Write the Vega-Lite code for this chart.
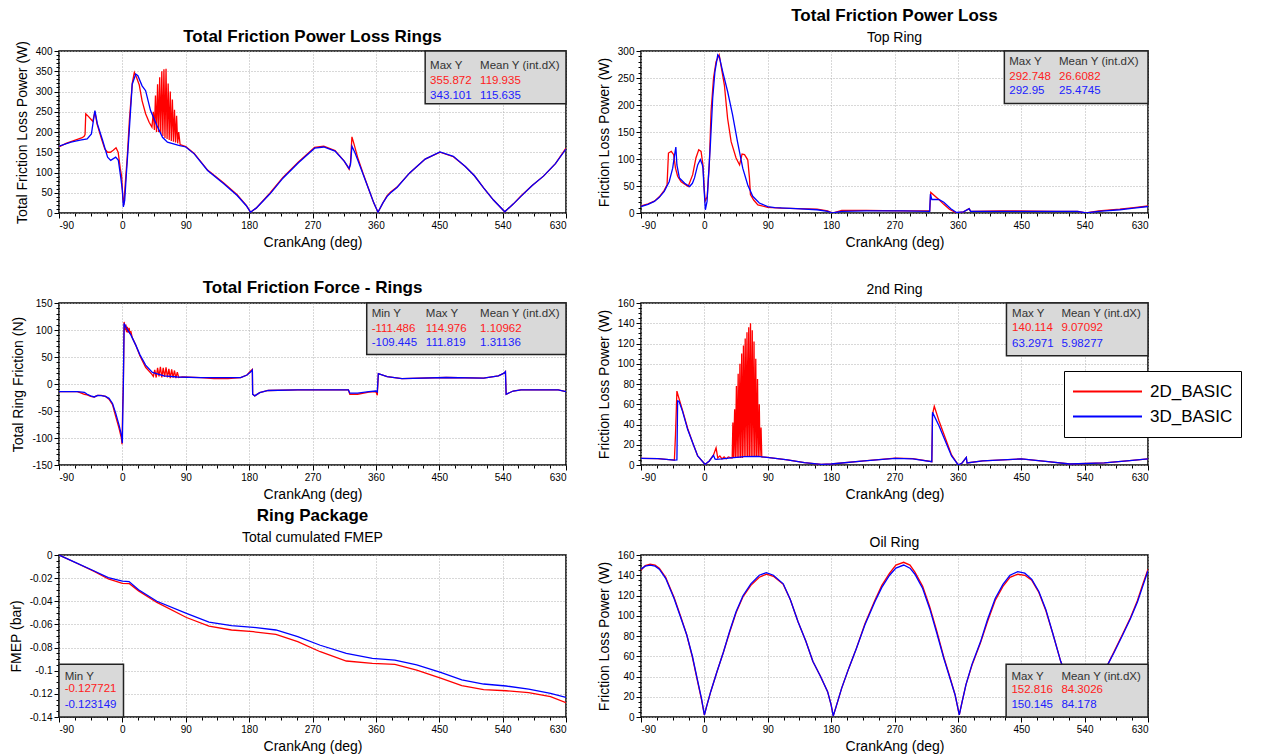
{
"$schema": "https://vega.github.io/schema/vega-lite/v6.json",
"background": "white",
"padding": {"left": 8, "top": 6, "right": 5, "bottom": 5},
"columns": 2,
"spacing": {"row": 90, "column": 75},
"bounds": "flush",
"resolve": {"scale": {"color": "shared"}, "legend": {"color": "shared"}},
"config": {
 "font": "Liberation Sans",
 "view": {"stroke": "#000", "strokeWidth": 1.5},
 "axis": {"labelFont": "Liberation Sans", "labelFontSize": 10, "labelColor": "#000", "labelOverlap": false, "titleFont": "Liberation Sans", "titleFontSize": 14, "titleFontWeight": "normal", "titleColor": "#000", "domain": false, "tickColor": "#000", "tickSize": 5, "gridColor": "#b0b0b0", "gridDash": [1, 2], "labelPadding": 2, "titlePadding": 5},
 "axisY": {"titlePadding": 6, "labelPadding": 2},
 "title": {"font": "Liberation Sans", "fontSize": 17, "fontWeight": "bold", "color": "#000", "subtitleFont": "Liberation Sans", "subtitleFontSize": 14, "subtitleColor": "#000", "offset": 6, "subtitlePadding": 6},
 "text": {"font": "Liberation Sans"}
},
"datasets": {
 "d1": [
{"run":"2D_BASIC","ang":-90,"val":163},{"run":"2D_BASIC","ang":-80,"val":172},{"run":"2D_BASIC","ang":-70,"val":178},{"run":"2D_BASIC","ang":-62,"val":183},{"run":"2D_BASIC","ang":-57,"val":186},{"run":"2D_BASIC","ang":-54,"val":190},{"run":"2D_BASIC","ang":-53,"val":194},{"run":"2D_BASIC","ang":-52,"val":245},{"run":"2D_BASIC","ang":-48,"val":238},{"run":"2D_BASIC","ang":-45,"val":232},{"run":"2D_BASIC","ang":-42,"val":226},{"run":"2D_BASIC","ang":-39,"val":250},{"run":"2D_BASIC","ang":-36,"val":220},{"run":"2D_BASIC","ang":-30,"val":185},{"run":"2D_BASIC","ang":-25,"val":158},{"run":"2D_BASIC","ang":-21,"val":150},{"run":"2D_BASIC","ang":-17,"val":150},{"run":"2D_BASIC","ang":-13,"val":155},{"run":"2D_BASIC","ang":-9,"val":161},{"run":"2D_BASIC","ang":-6,"val":150},{"run":"2D_BASIC","ang":-3,"val":110},{"run":"2D_BASIC","ang":-1,"val":90},{"run":"2D_BASIC","ang":0.5,"val":40},{"run":"2D_BASIC","ang":2,"val":20},{"run":"2D_BASIC","ang":4,"val":70},{"run":"2D_BASIC","ang":7,"val":140},{"run":"2D_BASIC","ang":10,"val":230},{"run":"2D_BASIC","ang":14,"val":320},{"run":"2D_BASIC","ang":17,"val":347},{"run":"2D_BASIC","ang":20,"val":335},{"run":"2D_BASIC","ang":24,"val":316},{"run":"2D_BASIC","ang":28,"val":277},{"run":"2D_BASIC","ang":33,"val":245},{"run":"2D_BASIC","ang":38,"val":224},{"run":"2D_BASIC","ang":42,"val":212},{"run":"2D_BASIC","ang":44,"val":250},{"run":"2D_BASIC","ang":45.5,"val":205},{"run":"2D_BASIC","ang":47,"val":290},{"run":"2D_BASIC","ang":48.5,"val":200},{"run":"2D_BASIC","ang":50,"val":318},{"run":"2D_BASIC","ang":51.5,"val":200},{"run":"2D_BASIC","ang":53,"val":335},{"run":"2D_BASIC","ang":54.5,"val":195},{"run":"2D_BASIC","ang":56,"val":350},{"run":"2D_BASIC","ang":57.5,"val":190},{"run":"2D_BASIC","ang":59,"val":355},{"run":"2D_BASIC","ang":60.5,"val":185},{"run":"2D_BASIC","ang":62,"val":355.9},{"run":"2D_BASIC","ang":63.5,"val":183},{"run":"2D_BASIC","ang":65,"val":320},{"run":"2D_BASIC","ang":66.5,"val":180},{"run":"2D_BASIC","ang":68,"val":300},{"run":"2D_BASIC","ang":69.5,"val":178},{"run":"2D_BASIC","ang":71,"val":280},{"run":"2D_BASIC","ang":72.5,"val":176},{"run":"2D_BASIC","ang":74,"val":255},{"run":"2D_BASIC","ang":75.5,"val":174},{"run":"2D_BASIC","ang":77,"val":240},{"run":"2D_BASIC","ang":78.5,"val":172},{"run":"2D_BASIC","ang":80,"val":200},{"run":"2D_BASIC","ang":82,"val":169},{"run":"2D_BASIC","ang":90,"val":164},{"run":"2D_BASIC","ang":102,"val":147},{"run":"2D_BASIC","ang":121,"val":106},{"run":"2D_BASIC","ang":144,"val":74},{"run":"2D_BASIC","ang":163,"val":45},{"run":"2D_BASIC","ang":176,"val":19},{"run":"2D_BASIC","ang":182,"val":2},{"run":"2D_BASIC","ang":190,"val":12},{"run":"2D_BASIC","ang":210,"val":50},{"run":"2D_BASIC","ang":228,"val":88},{"run":"2D_BASIC","ang":250,"val":126},{"run":"2D_BASIC","ang":273,"val":162},{"run":"2D_BASIC","ang":286,"val":165},{"run":"2D_BASIC","ang":302,"val":154},{"run":"2D_BASIC","ang":315,"val":128},{"run":"2D_BASIC","ang":322,"val":108},{"run":"2D_BASIC","ang":324,"val":125},{"run":"2D_BASIC","ang":326,"val":188},{"run":"2D_BASIC","ang":329,"val":170},{"run":"2D_BASIC","ang":334,"val":138},{"run":"2D_BASIC","ang":342,"val":97},{"run":"2D_BASIC","ang":350,"val":58},{"run":"2D_BASIC","ang":357,"val":25},{"run":"2D_BASIC","ang":363,"val":2},{"run":"2D_BASIC","ang":370,"val":25},{"run":"2D_BASIC","ang":376,"val":43},{"run":"2D_BASIC","ang":381,"val":52},{"run":"2D_BASIC","ang":390,"val":64},{"run":"2D_BASIC","ang":408,"val":99},{"run":"2D_BASIC","ang":430,"val":133},{"run":"2D_BASIC","ang":451,"val":150},{"run":"2D_BASIC","ang":470,"val":139},{"run":"2D_BASIC","ang":487,"val":115},{"run":"2D_BASIC","ang":500,"val":92},{"run":"2D_BASIC","ang":513,"val":62},{"run":"2D_BASIC","ang":527,"val":32},{"run":"2D_BASIC","ang":543,"val":3},{"run":"2D_BASIC","ang":555,"val":22},{"run":"2D_BASIC","ang":566,"val":42},{"run":"2D_BASIC","ang":582,"val":68},{"run":"2D_BASIC","ang":598,"val":91},{"run":"2D_BASIC","ang":615,"val":122},{"run":"2D_BASIC","ang":630,"val":160},
{"run":"3D_BASIC","ang":-90,"val":165},{"run":"3D_BASIC","ang":-73,"val":175},{"run":"3D_BASIC","ang":-60,"val":180},{"run":"3D_BASIC","ang":-50,"val":183},{"run":"3D_BASIC","ang":-44,"val":195},{"run":"3D_BASIC","ang":-41,"val":230},{"run":"3D_BASIC","ang":-39,"val":253},{"run":"3D_BASIC","ang":-35.5,"val":220},{"run":"3D_BASIC","ang":-28,"val":179},{"run":"3D_BASIC","ang":-21,"val":138},{"run":"3D_BASIC","ang":-16.6,"val":130},{"run":"3D_BASIC","ang":-9.5,"val":138},{"run":"3D_BASIC","ang":-5.7,"val":130},{"run":"3D_BASIC","ang":-2.4,"val":89},{"run":"3D_BASIC","ang":0,"val":56},{"run":"3D_BASIC","ang":1.4,"val":15},{"run":"3D_BASIC","ang":3.3,"val":31},{"run":"3D_BASIC","ang":6,"val":105},{"run":"3D_BASIC","ang":9.5,"val":195},{"run":"3D_BASIC","ang":14,"val":318},{"run":"3D_BASIC","ang":19,"val":343.1},{"run":"3D_BASIC","ang":22,"val":339},{"run":"3D_BASIC","ang":28,"val":314},{"run":"3D_BASIC","ang":33,"val":302},{"run":"3D_BASIC","ang":40,"val":253},{"run":"3D_BASIC","ang":49,"val":216},{"run":"3D_BASIC","ang":57,"val":187},{"run":"3D_BASIC","ang":64,"val":175},{"run":"3D_BASIC","ang":80,"val":167},{"run":"3D_BASIC","ang":90,"val":163},{"run":"3D_BASIC","ang":102,"val":146},{"run":"3D_BASIC","ang":121,"val":105},{"run":"3D_BASIC","ang":144,"val":72},{"run":"3D_BASIC","ang":163,"val":43},{"run":"3D_BASIC","ang":176,"val":18},{"run":"3D_BASIC","ang":182,"val":2},{"run":"3D_BASIC","ang":190,"val":12},{"run":"3D_BASIC","ang":210,"val":48},{"run":"3D_BASIC","ang":228,"val":86},{"run":"3D_BASIC","ang":250,"val":124},{"run":"3D_BASIC","ang":273,"val":160},{"run":"3D_BASIC","ang":286,"val":163},{"run":"3D_BASIC","ang":302,"val":153},{"run":"3D_BASIC","ang":315,"val":128},{"run":"3D_BASIC","ang":322,"val":110},{"run":"3D_BASIC","ang":324,"val":120},{"run":"3D_BASIC","ang":326,"val":165},{"run":"3D_BASIC","ang":330,"val":150},{"run":"3D_BASIC","ang":334,"val":132},{"run":"3D_BASIC","ang":342,"val":95},{"run":"3D_BASIC","ang":350,"val":58},{"run":"3D_BASIC","ang":357,"val":25},{"run":"3D_BASIC","ang":363,"val":2},{"run":"3D_BASIC","ang":370,"val":25},{"run":"3D_BASIC","ang":376,"val":41},{"run":"3D_BASIC","ang":381,"val":50},{"run":"3D_BASIC","ang":390,"val":63},{"run":"3D_BASIC","ang":408,"val":99},{"run":"3D_BASIC","ang":430,"val":133},{"run":"3D_BASIC","ang":451,"val":151},{"run":"3D_BASIC","ang":470,"val":140},{"run":"3D_BASIC","ang":487,"val":115},{"run":"3D_BASIC","ang":500,"val":92},{"run":"3D_BASIC","ang":513,"val":62},{"run":"3D_BASIC","ang":527,"val":32},{"run":"3D_BASIC","ang":543,"val":3},{"run":"3D_BASIC","ang":555,"val":22},{"run":"3D_BASIC","ang":566,"val":41},{"run":"3D_BASIC","ang":582,"val":68},{"run":"3D_BASIC","ang":598,"val":91},{"run":"3D_BASIC","ang":615,"val":122},{"run":"3D_BASIC","ang":630,"val":158}
 ],
 "d2": [
{"run":"2D_BASIC","ang":-90,"val":13},{"run":"2D_BASIC","ang":-80,"val":17},{"run":"2D_BASIC","ang":-71,"val":22},{"run":"2D_BASIC","ang":-64,"val":30},{"run":"2D_BASIC","ang":-57,"val":42},{"run":"2D_BASIC","ang":-53,"val":52},{"run":"2D_BASIC","ang":-51,"val":111},{"run":"2D_BASIC","ang":-47,"val":114},{"run":"2D_BASIC","ang":-43.6,"val":108},{"run":"2D_BASIC","ang":-41,"val":83},{"run":"2D_BASIC","ang":-38,"val":68},{"run":"2D_BASIC","ang":-33,"val":58},{"run":"2D_BASIC","ang":-23,"val":49},{"run":"2D_BASIC","ang":-16.6,"val":71},{"run":"2D_BASIC","ang":-12,"val":102},{"run":"2D_BASIC","ang":-8,"val":117},{"run":"2D_BASIC","ang":-4.7,"val":114},{"run":"2D_BASIC","ang":-2,"val":89},{"run":"2D_BASIC","ang":-0.5,"val":52},{"run":"2D_BASIC","ang":1,"val":22},{"run":"2D_BASIC","ang":4,"val":30},{"run":"2D_BASIC","ang":7,"val":90},{"run":"2D_BASIC","ang":9.5,"val":188},{"run":"2D_BASIC","ang":13,"val":250},{"run":"2D_BASIC","ang":16.6,"val":280},{"run":"2D_BASIC","ang":21,"val":292.7},{"run":"2D_BASIC","ang":24,"val":270},{"run":"2D_BASIC","ang":28.4,"val":237},{"run":"2D_BASIC","ang":33,"val":175},{"run":"2D_BASIC","ang":38,"val":132},{"run":"2D_BASIC","ang":45,"val":102},{"run":"2D_BASIC","ang":50,"val":89},{"run":"2D_BASIC","ang":53.5,"val":109},{"run":"2D_BASIC","ang":57,"val":108},{"run":"2D_BASIC","ang":61.6,"val":98.5},{"run":"2D_BASIC","ang":64,"val":65},{"run":"2D_BASIC","ang":65.4,"val":34},{"run":"2D_BASIC","ang":70,"val":24},{"run":"2D_BASIC","ang":76,"val":15},{"run":"2D_BASIC","ang":90,"val":10.5},{"run":"2D_BASIC","ang":109,"val":9},{"run":"2D_BASIC","ang":133,"val":8},{"run":"2D_BASIC","ang":160,"val":7},{"run":"2D_BASIC","ang":175,"val":4},{"run":"2D_BASIC","ang":182,"val":0},{"run":"2D_BASIC","ang":195,"val":5},{"run":"2D_BASIC","ang":230,"val":5},{"run":"2D_BASIC","ang":280,"val":4},{"run":"2D_BASIC","ang":320,"val":4},{"run":"2D_BASIC","ang":321.5,"val":38},{"run":"2D_BASIC","ang":333,"val":25},{"run":"2D_BASIC","ang":340,"val":16},{"run":"2D_BASIC","ang":348,"val":7},{"run":"2D_BASIC","ang":358,"val":0},{"run":"2D_BASIC","ang":368,"val":2},{"run":"2D_BASIC","ang":376,"val":8},{"run":"2D_BASIC","ang":378,"val":3},{"run":"2D_BASIC","ang":420,"val":4},{"run":"2D_BASIC","ang":500,"val":3},{"run":"2D_BASIC","ang":530,"val":3},{"run":"2D_BASIC","ang":542,"val":0},{"run":"2D_BASIC","ang":560,"val":4},{"run":"2D_BASIC","ang":590,"val":7},{"run":"2D_BASIC","ang":610,"val":10},{"run":"2D_BASIC","ang":630,"val":13},
{"run":"3D_BASIC","ang":-90,"val":12},{"run":"3D_BASIC","ang":-80,"val":16},{"run":"3D_BASIC","ang":-71,"val":21.5},{"run":"3D_BASIC","ang":-64,"val":29},{"run":"3D_BASIC","ang":-57,"val":40},{"run":"3D_BASIC","ang":-50,"val":58},{"run":"3D_BASIC","ang":-45,"val":83},{"run":"3D_BASIC","ang":-42,"val":110},{"run":"3D_BASIC","ang":-40.5,"val":122},{"run":"3D_BASIC","ang":-39,"val":89},{"run":"3D_BASIC","ang":-35.5,"val":65},{"run":"3D_BASIC","ang":-28,"val":55},{"run":"3D_BASIC","ang":-21,"val":49},{"run":"3D_BASIC","ang":-17,"val":55},{"run":"3D_BASIC","ang":-14,"val":65},{"run":"3D_BASIC","ang":-9.5,"val":89},{"run":"3D_BASIC","ang":-5.7,"val":99},{"run":"3D_BASIC","ang":-3,"val":90},{"run":"3D_BASIC","ang":-2,"val":83},{"run":"3D_BASIC","ang":-0.5,"val":46},{"run":"3D_BASIC","ang":1.4,"val":6},{"run":"3D_BASIC","ang":3.8,"val":21.5},{"run":"3D_BASIC","ang":5.7,"val":65},{"run":"3D_BASIC","ang":8.5,"val":126},{"run":"3D_BASIC","ang":11.8,"val":212},{"run":"3D_BASIC","ang":15,"val":262},{"run":"3D_BASIC","ang":19,"val":292.9},{"run":"3D_BASIC","ang":21.3,"val":289},{"run":"3D_BASIC","ang":26,"val":262},{"run":"3D_BASIC","ang":33,"val":225},{"run":"3D_BASIC","ang":40,"val":182},{"run":"3D_BASIC","ang":47,"val":132},{"run":"3D_BASIC","ang":54.5,"val":83},{"run":"3D_BASIC","ang":61.6,"val":52},{"run":"3D_BASIC","ang":68.7,"val":31},{"run":"3D_BASIC","ang":78,"val":18.5},{"run":"3D_BASIC","ang":90,"val":12},{"run":"3D_BASIC","ang":100,"val":10},{"run":"3D_BASIC","ang":130,"val":8},{"run":"3D_BASIC","ang":160,"val":6},{"run":"3D_BASIC","ang":175,"val":3},{"run":"3D_BASIC","ang":182,"val":0},{"run":"3D_BASIC","ang":195,"val":3},{"run":"3D_BASIC","ang":230,"val":4},{"run":"3D_BASIC","ang":280,"val":4},{"run":"3D_BASIC","ang":320,"val":3},{"run":"3D_BASIC","ang":321,"val":35},{"run":"3D_BASIC","ang":323,"val":25},{"run":"3D_BASIC","ang":333,"val":25},{"run":"3D_BASIC","ang":340,"val":20},{"run":"3D_BASIC","ang":350,"val":8},{"run":"3D_BASIC","ang":358,"val":1},{"run":"3D_BASIC","ang":368,"val":2},{"run":"3D_BASIC","ang":376,"val":8},{"run":"3D_BASIC","ang":378,"val":3},{"run":"3D_BASIC","ang":420,"val":3},{"run":"3D_BASIC","ang":500,"val":3},{"run":"3D_BASIC","ang":530,"val":3},{"run":"3D_BASIC","ang":542,"val":0},{"run":"3D_BASIC","ang":560,"val":3},{"run":"3D_BASIC","ang":590,"val":6},{"run":"3D_BASIC","ang":610,"val":9},{"run":"3D_BASIC","ang":630,"val":12}
 ],
 "d3": [
{"run":"2D_BASIC","ang":-90,"val":-14},{"run":"2D_BASIC","ang":-64,"val":-14},{"run":"2D_BASIC","ang":-60,"val":-16},{"run":"2D_BASIC","ang":-54,"val":-19},{"run":"2D_BASIC","ang":-50,"val":-20},{"run":"2D_BASIC","ang":-45,"val":-23},{"run":"2D_BASIC","ang":-40,"val":-24},{"run":"2D_BASIC","ang":-35,"val":-21},{"run":"2D_BASIC","ang":-30,"val":-21},{"run":"2D_BASIC","ang":-24,"val":-23},{"run":"2D_BASIC","ang":-19,"val":-28},{"run":"2D_BASIC","ang":-14,"val":-38},{"run":"2D_BASIC","ang":-9.5,"val":-60},{"run":"2D_BASIC","ang":-4.7,"val":-82},{"run":"2D_BASIC","ang":-1.4,"val":-100},{"run":"2D_BASIC","ang":-0.5,"val":-111.5},{"run":"2D_BASIC","ang":0.5,"val":-40},{"run":"2D_BASIC","ang":1.4,"val":1},{"run":"2D_BASIC","ang":2.5,"val":115},{"run":"2D_BASIC","ang":4,"val":100},{"run":"2D_BASIC","ang":5,"val":110},{"run":"2D_BASIC","ang":6,"val":96},{"run":"2D_BASIC","ang":7,"val":106},{"run":"2D_BASIC","ang":8,"val":95},{"run":"2D_BASIC","ang":9.5,"val":104},{"run":"2D_BASIC","ang":11,"val":93},{"run":"2D_BASIC","ang":12,"val":98},{"run":"2D_BASIC","ang":14,"val":86},{"run":"2D_BASIC","ang":19,"val":72},{"run":"2D_BASIC","ang":25,"val":52},{"run":"2D_BASIC","ang":33,"val":31},{"run":"2D_BASIC","ang":42,"val":18},{"run":"2D_BASIC","ang":44,"val":14},{"run":"2D_BASIC","ang":46,"val":26},{"run":"2D_BASIC","ang":48,"val":12},{"run":"2D_BASIC","ang":50,"val":30},{"run":"2D_BASIC","ang":52,"val":14},{"run":"2D_BASIC","ang":54,"val":32},{"run":"2D_BASIC","ang":56,"val":12},{"run":"2D_BASIC","ang":58,"val":30},{"run":"2D_BASIC","ang":60,"val":13},{"run":"2D_BASIC","ang":62,"val":31},{"run":"2D_BASIC","ang":64,"val":12},{"run":"2D_BASIC","ang":66,"val":28},{"run":"2D_BASIC","ang":68,"val":11},{"run":"2D_BASIC","ang":70,"val":27},{"run":"2D_BASIC","ang":72,"val":12},{"run":"2D_BASIC","ang":74,"val":25},{"run":"2D_BASIC","ang":76,"val":11},{"run":"2D_BASIC","ang":78,"val":22},{"run":"2D_BASIC","ang":80,"val":12},{"run":"2D_BASIC","ang":85,"val":13},{"run":"2D_BASIC","ang":111,"val":11.7},{"run":"2D_BASIC","ang":130,"val":10},{"run":"2D_BASIC","ang":150,"val":10},{"run":"2D_BASIC","ang":168,"val":11.7},{"run":"2D_BASIC","ang":177,"val":16.7},{"run":"2D_BASIC","ang":182,"val":24},{"run":"2D_BASIC","ang":184.6,"val":27},{"run":"2D_BASIC","ang":185,"val":-19},{"run":"2D_BASIC","ang":188,"val":-22},{"run":"2D_BASIC","ang":195,"val":-16},{"run":"2D_BASIC","ang":207,"val":-12},{"run":"2D_BASIC","ang":249,"val":-11},{"run":"2D_BASIC","ang":321,"val":-11},{"run":"2D_BASIC","ang":323,"val":-19},{"run":"2D_BASIC","ang":334,"val":-19},{"run":"2D_BASIC","ang":350,"val":-15},{"run":"2D_BASIC","ang":360,"val":-14},{"run":"2D_BASIC","ang":362,"val":-21},{"run":"2D_BASIC","ang":363.5,"val":19},{"run":"2D_BASIC","ang":376,"val":13.5},{"run":"2D_BASIC","ang":397,"val":10},{"run":"2D_BASIC","ang":460,"val":12},{"run":"2D_BASIC","ang":513,"val":11},{"run":"2D_BASIC","ang":534,"val":15},{"run":"2D_BASIC","ang":542,"val":20},{"run":"2D_BASIC","ang":544,"val":23},{"run":"2D_BASIC","ang":545,"val":-19},{"run":"2D_BASIC","ang":555,"val":-13},{"run":"2D_BASIC","ang":566,"val":-11},{"run":"2D_BASIC","ang":619,"val":-11},{"run":"2D_BASIC","ang":630,"val":-14},
{"run":"3D_BASIC","ang":-90,"val":-14},{"run":"3D_BASIC","ang":-64,"val":-14},{"run":"3D_BASIC","ang":-54,"val":-15.4},{"run":"3D_BASIC","ang":-50,"val":-19},{"run":"3D_BASIC","ang":-45,"val":-22},{"run":"3D_BASIC","ang":-40,"val":-24},{"run":"3D_BASIC","ang":-35,"val":-21},{"run":"3D_BASIC","ang":-30,"val":-21.6},{"run":"3D_BASIC","ang":-24,"val":-23},{"run":"3D_BASIC","ang":-19,"val":-26.5},{"run":"3D_BASIC","ang":-14,"val":-36},{"run":"3D_BASIC","ang":-9.5,"val":-54},{"run":"3D_BASIC","ang":-4.7,"val":-76},{"run":"3D_BASIC","ang":-1.4,"val":-94},{"run":"3D_BASIC","ang":0,"val":-109.4},{"run":"3D_BASIC","ang":0.5,"val":-60},{"run":"3D_BASIC","ang":1.4,"val":1},{"run":"3D_BASIC","ang":2.5,"val":111.8},{"run":"3D_BASIC","ang":6,"val":103},{"run":"3D_BASIC","ang":12,"val":91},{"run":"3D_BASIC","ang":19,"val":72},{"run":"3D_BASIC","ang":25,"val":54},{"run":"3D_BASIC","ang":33,"val":35},{"run":"3D_BASIC","ang":42.6,"val":21.6},{"run":"3D_BASIC","ang":59,"val":15},{"run":"3D_BASIC","ang":78,"val":13},{"run":"3D_BASIC","ang":111,"val":11.7},{"run":"3D_BASIC","ang":168,"val":11.7},{"run":"3D_BASIC","ang":177,"val":16.7},{"run":"3D_BASIC","ang":182,"val":22},{"run":"3D_BASIC","ang":184.6,"val":26},{"run":"3D_BASIC","ang":185,"val":-19},{"run":"3D_BASIC","ang":188,"val":-22},{"run":"3D_BASIC","ang":195,"val":-16},{"run":"3D_BASIC","ang":207,"val":-12},{"run":"3D_BASIC","ang":249,"val":-11},{"run":"3D_BASIC","ang":321,"val":-11},{"run":"3D_BASIC","ang":323,"val":-17},{"run":"3D_BASIC","ang":334,"val":-17},{"run":"3D_BASIC","ang":350,"val":-14},{"run":"3D_BASIC","ang":360,"val":-13},{"run":"3D_BASIC","ang":362,"val":-15},{"run":"3D_BASIC","ang":363.5,"val":19},{"run":"3D_BASIC","ang":376,"val":13.5},{"run":"3D_BASIC","ang":397,"val":10},{"run":"3D_BASIC","ang":460,"val":12},{"run":"3D_BASIC","ang":513,"val":11},{"run":"3D_BASIC","ang":534,"val":15},{"run":"3D_BASIC","ang":542,"val":20},{"run":"3D_BASIC","ang":544,"val":23},{"run":"3D_BASIC","ang":545,"val":-19},{"run":"3D_BASIC","ang":555,"val":-13},{"run":"3D_BASIC","ang":566,"val":-11},{"run":"3D_BASIC","ang":619,"val":-11},{"run":"3D_BASIC","ang":630,"val":-14}
 ],
 "d4": [
{"run":"2D_BASIC","ang":-90,"val":6.5},{"run":"2D_BASIC","ang":-66,"val":6.2},{"run":"2D_BASIC","ang":-42.6,"val":4.9},{"run":"2D_BASIC","ang":-41,"val":30},{"run":"2D_BASIC","ang":-39,"val":73},{"run":"2D_BASIC","ang":-37,"val":68},{"run":"2D_BASIC","ang":-31,"val":54},{"run":"2D_BASIC","ang":-23.7,"val":36},{"run":"2D_BASIC","ang":-16.6,"val":22},{"run":"2D_BASIC","ang":-9.5,"val":9},{"run":"2D_BASIC","ang":1,"val":0.6},{"run":"2D_BASIC","ang":7,"val":4},{"run":"2D_BASIC","ang":13,"val":10},{"run":"2D_BASIC","ang":16.6,"val":17},{"run":"2D_BASIC","ang":19,"val":7},{"run":"2D_BASIC","ang":22,"val":9},{"run":"2D_BASIC","ang":25,"val":6},{"run":"2D_BASIC","ang":28,"val":8},{"run":"2D_BASIC","ang":31,"val":6},{"run":"2D_BASIC","ang":34,"val":8},{"run":"2D_BASIC","ang":38,"val":7},{"run":"2D_BASIC","ang":39.5,"val":7},{"run":"2D_BASIC","ang":40.5,"val":42},{"run":"2D_BASIC","ang":41.5,"val":7},{"run":"2D_BASIC","ang":43,"val":55},{"run":"2D_BASIC","ang":44,"val":7},{"run":"2D_BASIC","ang":45.5,"val":78},{"run":"2D_BASIC","ang":46.5,"val":7},{"run":"2D_BASIC","ang":48,"val":90},{"run":"2D_BASIC","ang":49,"val":7},{"run":"2D_BASIC","ang":50.5,"val":100},{"run":"2D_BASIC","ang":51.5,"val":7},{"run":"2D_BASIC","ang":53,"val":110},{"run":"2D_BASIC","ang":54,"val":7},{"run":"2D_BASIC","ang":55.5,"val":118},{"run":"2D_BASIC","ang":56.5,"val":8},{"run":"2D_BASIC","ang":58,"val":125},{"run":"2D_BASIC","ang":59,"val":8},{"run":"2D_BASIC","ang":60.5,"val":131},{"run":"2D_BASIC","ang":61.5,"val":8},{"run":"2D_BASIC","ang":63,"val":136},{"run":"2D_BASIC","ang":64,"val":8},{"run":"2D_BASIC","ang":65.5,"val":140.1},{"run":"2D_BASIC","ang":66.5,"val":8},{"run":"2D_BASIC","ang":68,"val":133},{"run":"2D_BASIC","ang":69,"val":8},{"run":"2D_BASIC","ang":70.5,"val":122},{"run":"2D_BASIC","ang":71.5,"val":8},{"run":"2D_BASIC","ang":73,"val":105},{"run":"2D_BASIC","ang":74,"val":8},{"run":"2D_BASIC","ang":75.5,"val":85},{"run":"2D_BASIC","ang":76.5,"val":8},{"run":"2D_BASIC","ang":78,"val":60},{"run":"2D_BASIC","ang":79,"val":8},{"run":"2D_BASIC","ang":80.5,"val":37},{"run":"2D_BASIC","ang":81.5,"val":8},{"run":"2D_BASIC","ang":90,"val":7.5},{"run":"2D_BASIC","ang":95,"val":7},{"run":"2D_BASIC","ang":118,"val":5},{"run":"2D_BASIC","ang":142,"val":2.3},{"run":"2D_BASIC","ang":166,"val":0.7},{"run":"2D_BASIC","ang":180,"val":1},{"run":"2D_BASIC","ang":227,"val":4},{"run":"2D_BASIC","ang":271,"val":6.8},{"run":"2D_BASIC","ang":296,"val":6.2},{"run":"2D_BASIC","ang":323,"val":3.3},{"run":"2D_BASIC","ang":324,"val":50},{"run":"2D_BASIC","ang":326.5,"val":58},{"run":"2D_BASIC","ang":333,"val":44},{"run":"2D_BASIC","ang":342,"val":27},{"run":"2D_BASIC","ang":351,"val":10},{"run":"2D_BASIC","ang":360.6,"val":0},{"run":"2D_BASIC","ang":366,"val":2},{"run":"2D_BASIC","ang":372,"val":7.5},{"run":"2D_BASIC","ang":373,"val":2},{"run":"2D_BASIC","ang":395,"val":4},{"run":"2D_BASIC","ang":450,"val":6},{"run":"2D_BASIC","ang":488,"val":3.3},{"run":"2D_BASIC","ang":519,"val":1},{"run":"2D_BASIC","ang":568,"val":2},{"run":"2D_BASIC","ang":600,"val":4},{"run":"2D_BASIC","ang":630,"val":6},
{"run":"3D_BASIC","ang":-90,"val":6.5},{"run":"3D_BASIC","ang":-66,"val":6.2},{"run":"3D_BASIC","ang":-42.6,"val":4.9},{"run":"3D_BASIC","ang":-39,"val":5},{"run":"3D_BASIC","ang":-38,"val":63.3},{"run":"3D_BASIC","ang":-36,"val":63},{"run":"3D_BASIC","ang":-31,"val":53},{"run":"3D_BASIC","ang":-23.7,"val":35},{"run":"3D_BASIC","ang":-16.6,"val":22},{"run":"3D_BASIC","ang":-9.5,"val":9},{"run":"3D_BASIC","ang":1,"val":0.6},{"run":"3D_BASIC","ang":7,"val":4},{"run":"3D_BASIC","ang":13,"val":9.5},{"run":"3D_BASIC","ang":15,"val":6},{"run":"3D_BASIC","ang":16.6,"val":5.6},{"run":"3D_BASIC","ang":25,"val":6},{"run":"3D_BASIC","ang":38,"val":7},{"run":"3D_BASIC","ang":57,"val":8.2},{"run":"3D_BASIC","ang":76,"val":8.5},{"run":"3D_BASIC","ang":95,"val":7},{"run":"3D_BASIC","ang":118,"val":5},{"run":"3D_BASIC","ang":142,"val":2.3},{"run":"3D_BASIC","ang":166,"val":0.7},{"run":"3D_BASIC","ang":180,"val":1},{"run":"3D_BASIC","ang":227,"val":4},{"run":"3D_BASIC","ang":271,"val":6.6},{"run":"3D_BASIC","ang":296,"val":6},{"run":"3D_BASIC","ang":323,"val":3.3},{"run":"3D_BASIC","ang":324,"val":52},{"run":"3D_BASIC","ang":333,"val":39},{"run":"3D_BASIC","ang":342,"val":24},{"run":"3D_BASIC","ang":351,"val":9},{"run":"3D_BASIC","ang":360.6,"val":0},{"run":"3D_BASIC","ang":366,"val":2},{"run":"3D_BASIC","ang":372,"val":7.5},{"run":"3D_BASIC","ang":373,"val":2},{"run":"3D_BASIC","ang":395,"val":4},{"run":"3D_BASIC","ang":450,"val":6},{"run":"3D_BASIC","ang":488,"val":3.3},{"run":"3D_BASIC","ang":519,"val":1},{"run":"3D_BASIC","ang":568,"val":2},{"run":"3D_BASIC","ang":600,"val":4},{"run":"3D_BASIC","ang":630,"val":6}
 ],
 "d5": [
{"run":"2D_BASIC","ang":-90,"val":0},{"run":"2D_BASIC","ang":-67,"val":-0.0065},{"run":"2D_BASIC","ang":-40,"val":-0.0142},{"run":"2D_BASIC","ang":-20,"val":-0.0207},{"run":"2D_BASIC","ang":0,"val":-0.0245},{"run":"2D_BASIC","ang":10,"val":-0.0248},{"run":"2D_BASIC","ang":23,"val":-0.031},{"run":"2D_BASIC","ang":49,"val":-0.041},{"run":"2D_BASIC","ang":91,"val":-0.054},{"run":"2D_BASIC","ang":123,"val":-0.0614},{"run":"2D_BASIC","ang":155,"val":-0.0648},{"run":"2D_BASIC","ang":186,"val":-0.0663},{"run":"2D_BASIC","ang":218,"val":-0.0686},{"run":"2D_BASIC","ang":249,"val":-0.0749},{"run":"2D_BASIC","ang":281,"val":-0.0836},{"run":"2D_BASIC","ang":318,"val":-0.0916},{"run":"2D_BASIC","ang":355,"val":-0.0936},{"run":"2D_BASIC","ang":387,"val":-0.0945},{"run":"2D_BASIC","ang":418,"val":-0.0994},{"run":"2D_BASIC","ang":453,"val":-0.1066},{"run":"2D_BASIC","ang":482,"val":-0.1128},{"run":"2D_BASIC","ang":513,"val":-0.1163},{"run":"2D_BASIC","ang":545,"val":-0.1173},{"run":"2D_BASIC","ang":577,"val":-0.119},{"run":"2D_BASIC","ang":608,"val":-0.1224},{"run":"2D_BASIC","ang":630,"val":-0.1277},
{"run":"3D_BASIC","ang":-90,"val":0},{"run":"3D_BASIC","ang":-67,"val":-0.0063},{"run":"3D_BASIC","ang":-40,"val":-0.0138},{"run":"3D_BASIC","ang":-20,"val":-0.0196},{"run":"3D_BASIC","ang":0,"val":-0.0225},{"run":"3D_BASIC","ang":9.5,"val":-0.023},{"run":"3D_BASIC","ang":23,"val":-0.03},{"run":"3D_BASIC","ang":49,"val":-0.04},{"run":"3D_BASIC","ang":91,"val":-0.0504},{"run":"3D_BASIC","ang":123,"val":-0.058},{"run":"3D_BASIC","ang":155,"val":-0.061},{"run":"3D_BASIC","ang":186,"val":-0.0625},{"run":"3D_BASIC","ang":218,"val":-0.0648},{"run":"3D_BASIC","ang":249,"val":-0.0706},{"run":"3D_BASIC","ang":281,"val":-0.078},{"run":"3D_BASIC","ang":318,"val":-0.085},{"run":"3D_BASIC","ang":355,"val":-0.0893},{"run":"3D_BASIC","ang":387,"val":-0.0908},{"run":"3D_BASIC","ang":418,"val":-0.095},{"run":"3D_BASIC","ang":453,"val":-0.1017},{"run":"3D_BASIC","ang":482,"val":-0.108},{"run":"3D_BASIC","ang":513,"val":-0.1115},{"run":"3D_BASIC","ang":545,"val":-0.1132},{"run":"3D_BASIC","ang":577,"val":-0.116},{"run":"3D_BASIC","ang":608,"val":-0.1196},{"run":"3D_BASIC","ang":630,"val":-0.1231}
 ],
 "d6": [
{"run":"2D_BASIC","ang":-90,"val":145},{"run":"2D_BASIC","ang":-84,"val":149.5},{"run":"2D_BASIC","ang":-77,"val":151},{"run":"2D_BASIC","ang":-70,"val":150},{"run":"2D_BASIC","ang":-64,"val":147},{"run":"2D_BASIC","ang":-55,"val":138},{"run":"2D_BASIC","ang":-43,"val":118},{"run":"2D_BASIC","ang":-34,"val":100},{"run":"2D_BASIC","ang":-25,"val":81},{"run":"2D_BASIC","ang":-17,"val":59},{"run":"2D_BASIC","ang":-9.3,"val":34},{"run":"2D_BASIC","ang":-4,"val":17},{"run":"2D_BASIC","ang":0,"val":2},{"run":"2D_BASIC","ang":3,"val":10},{"run":"2D_BASIC","ang":9,"val":25},{"run":"2D_BASIC","ang":18,"val":45},{"run":"2D_BASIC","ang":27,"val":64},{"run":"2D_BASIC","ang":36,"val":84},{"run":"2D_BASIC","ang":45,"val":103},{"run":"2D_BASIC","ang":55,"val":119},{"run":"2D_BASIC","ang":66,"val":130},{"run":"2D_BASIC","ang":78,"val":138},{"run":"2D_BASIC","ang":88,"val":141},{"run":"2D_BASIC","ang":98,"val":139},{"run":"2D_BASIC","ang":112,"val":131},{"run":"2D_BASIC","ang":122,"val":116},{"run":"2D_BASIC","ang":133,"val":94},{"run":"2D_BASIC","ang":144,"val":75},{"run":"2D_BASIC","ang":154,"val":55},{"run":"2D_BASIC","ang":165,"val":40},{"run":"2D_BASIC","ang":175,"val":25},{"run":"2D_BASIC","ang":180,"val":12},{"run":"2D_BASIC","ang":183,"val":1},{"run":"2D_BASIC","ang":187,"val":10},{"run":"2D_BASIC","ang":195,"val":28.5},{"run":"2D_BASIC","ang":205,"val":48},{"run":"2D_BASIC","ang":216,"val":68},{"run":"2D_BASIC","ang":228,"val":92},{"run":"2D_BASIC","ang":242,"val":115},{"run":"2D_BASIC","ang":252,"val":130},{"run":"2D_BASIC","ang":263,"val":142},{"run":"2D_BASIC","ang":272,"val":150},{"run":"2D_BASIC","ang":283,"val":152.8},{"run":"2D_BASIC","ang":292,"val":150},{"run":"2D_BASIC","ang":299,"val":143},{"run":"2D_BASIC","ang":310,"val":129},{"run":"2D_BASIC","ang":320,"val":109},{"run":"2D_BASIC","ang":330,"val":85},{"run":"2D_BASIC","ang":340,"val":59},{"run":"2D_BASIC","ang":348,"val":41},{"run":"2D_BASIC","ang":356,"val":22},{"run":"2D_BASIC","ang":362,"val":2},{"run":"2D_BASIC","ang":366,"val":15},{"run":"2D_BASIC","ang":371.5,"val":32},{"run":"2D_BASIC","ang":380,"val":51},{"run":"2D_BASIC","ang":392,"val":73},{"run":"2D_BASIC","ang":402,"val":94},{"run":"2D_BASIC","ang":413,"val":115},{"run":"2D_BASIC","ang":424,"val":129},{"run":"2D_BASIC","ang":434,"val":138},{"run":"2D_BASIC","ang":445,"val":141},{"run":"2D_BASIC","ang":455,"val":140},{"run":"2D_BASIC","ang":465,"val":135},{"run":"2D_BASIC","ang":475,"val":123},{"run":"2D_BASIC","ang":485,"val":105},{"run":"2D_BASIC","ang":495,"val":82},{"run":"2D_BASIC","ang":506,"val":55},{"run":"2D_BASIC","ang":515,"val":38},{"run":"2D_BASIC","ang":525,"val":22},{"run":"2D_BASIC","ang":535,"val":7},{"run":"2D_BASIC","ang":541,"val":1},{"run":"2D_BASIC","ang":548,"val":10},{"run":"2D_BASIC","ang":558,"val":26},{"run":"2D_BASIC","ang":566,"val":40},{"run":"2D_BASIC","ang":573,"val":52},{"run":"2D_BASIC","ang":582,"val":65},{"run":"2D_BASIC","ang":594,"val":82},{"run":"2D_BASIC","ang":605,"val":98},{"run":"2D_BASIC","ang":615,"val":115},{"run":"2D_BASIC","ang":622,"val":130},{"run":"2D_BASIC","ang":630,"val":146},
{"run":"3D_BASIC","ang":-90,"val":146},{"run":"3D_BASIC","ang":-84,"val":149},{"run":"3D_BASIC","ang":-77,"val":150},{"run":"3D_BASIC","ang":-70,"val":149},{"run":"3D_BASIC","ang":-64,"val":146},{"run":"3D_BASIC","ang":-55,"val":137},{"run":"3D_BASIC","ang":-43,"val":117},{"run":"3D_BASIC","ang":-34,"val":99},{"run":"3D_BASIC","ang":-25,"val":81},{"run":"3D_BASIC","ang":-17,"val":60},{"run":"3D_BASIC","ang":-9.3,"val":35},{"run":"3D_BASIC","ang":-4,"val":18},{"run":"3D_BASIC","ang":0,"val":2},{"run":"3D_BASIC","ang":3,"val":10},{"run":"3D_BASIC","ang":9,"val":25},{"run":"3D_BASIC","ang":18,"val":45},{"run":"3D_BASIC","ang":27,"val":64},{"run":"3D_BASIC","ang":36,"val":85},{"run":"3D_BASIC","ang":45,"val":104},{"run":"3D_BASIC","ang":55,"val":120},{"run":"3D_BASIC","ang":66,"val":131.5},{"run":"3D_BASIC","ang":78,"val":140},{"run":"3D_BASIC","ang":88,"val":142.5},{"run":"3D_BASIC","ang":98,"val":140},{"run":"3D_BASIC","ang":112,"val":131.5},{"run":"3D_BASIC","ang":122,"val":116},{"run":"3D_BASIC","ang":133,"val":94},{"run":"3D_BASIC","ang":144,"val":75},{"run":"3D_BASIC","ang":154,"val":55},{"run":"3D_BASIC","ang":165,"val":40},{"run":"3D_BASIC","ang":175,"val":25},{"run":"3D_BASIC","ang":180,"val":12},{"run":"3D_BASIC","ang":183,"val":1},{"run":"3D_BASIC","ang":187,"val":10},{"run":"3D_BASIC","ang":195,"val":28.5},{"run":"3D_BASIC","ang":205,"val":48},{"run":"3D_BASIC","ang":216,"val":68},{"run":"3D_BASIC","ang":228,"val":91},{"run":"3D_BASIC","ang":242,"val":113.5},{"run":"3D_BASIC","ang":252,"val":128},{"run":"3D_BASIC","ang":263,"val":140},{"run":"3D_BASIC","ang":272,"val":147},{"run":"3D_BASIC","ang":283,"val":150.1},{"run":"3D_BASIC","ang":292,"val":147},{"run":"3D_BASIC","ang":299,"val":141},{"run":"3D_BASIC","ang":310,"val":127},{"run":"3D_BASIC","ang":320,"val":107},{"run":"3D_BASIC","ang":330,"val":83},{"run":"3D_BASIC","ang":340,"val":58},{"run":"3D_BASIC","ang":348,"val":40},{"run":"3D_BASIC","ang":356,"val":22},{"run":"3D_BASIC","ang":362,"val":2},{"run":"3D_BASIC","ang":366,"val":15},{"run":"3D_BASIC","ang":371.5,"val":32},{"run":"3D_BASIC","ang":380,"val":52},{"run":"3D_BASIC","ang":392,"val":74},{"run":"3D_BASIC","ang":402,"val":96},{"run":"3D_BASIC","ang":413,"val":117},{"run":"3D_BASIC","ang":424,"val":131},{"run":"3D_BASIC","ang":434,"val":140},{"run":"3D_BASIC","ang":445,"val":143.5},{"run":"3D_BASIC","ang":455,"val":142},{"run":"3D_BASIC","ang":465,"val":136},{"run":"3D_BASIC","ang":475,"val":124},{"run":"3D_BASIC","ang":485,"val":106},{"run":"3D_BASIC","ang":495,"val":82},{"run":"3D_BASIC","ang":506,"val":55},{"run":"3D_BASIC","ang":515,"val":38},{"run":"3D_BASIC","ang":525,"val":22},{"run":"3D_BASIC","ang":535,"val":7},{"run":"3D_BASIC","ang":541,"val":1},{"run":"3D_BASIC","ang":548,"val":10},{"run":"3D_BASIC","ang":558,"val":26},{"run":"3D_BASIC","ang":566,"val":40},{"run":"3D_BASIC","ang":573,"val":52},{"run":"3D_BASIC","ang":582,"val":64},{"run":"3D_BASIC","ang":594,"val":81},{"run":"3D_BASIC","ang":605,"val":97},{"run":"3D_BASIC","ang":615,"val":113.5},{"run":"3D_BASIC","ang":622,"val":128},{"run":"3D_BASIC","ang":630,"val":144.6}
 ],
 "s1": [{"run":"2D_BASIC","max":"355.872","mean":"119.935"},{"run":"3D_BASIC","max":"343.101","mean":"115.635"}],
 "s2": [{"run":"2D_BASIC","max":"292.748","mean":"26.6082"},{"run":"3D_BASIC","max":"292.95","mean":"25.4745"}],
 "s3": [{"run":"2D_BASIC","min":"-111.486","max":"114.976","mean":"1.10962"},{"run":"3D_BASIC","min":"-109.445","max":"111.819","mean":"1.31136"}],
 "s4": [{"run":"2D_BASIC","max":"140.114","mean":"9.07092"},{"run":"3D_BASIC","max":"63.2971","mean":"5.98277"}],
 "s5": [{"run":"2D_BASIC","min":"-0.127721"},{"run":"3D_BASIC","min":"-0.123149"}],
 "s6": [{"run":"2D_BASIC","max":"152.816","mean":"84.3026"},{"run":"3D_BASIC","max":"150.145","mean":"84.178"}]
},
"concat": [
{
 "width": 507, "height": 162,
 "title": {"text": "Total Friction Power Loss Rings", "offset": -5},
 "resolve": {"axis": {"x": "independent", "y": "independent"}},
 "layer": [
  {"data": {"name": "d1"}, "mark": {"type": "line", "strokeWidth": 1.3, "clip": true},
   "encoding": {
    "x": {"field": "ang", "type": "quantitative", "scale": {"domain": [-90, 630], "nice": false, "zero": false}, "axis": {"orient": "bottom", "labelOverlap": false, "values": [-90, 0, 90, 180, 270, 360, 450, 540, 630], "title": "CrankAng (deg)", "labelExpr": "'' + datum.value"}},
    "y": {"field": "val", "type": "quantitative", "scale": {"domain": [0, 400], "nice": false}, "axis": {"orient": "left", "labelOverlap": false, "values": [0, 50, 100, 150, 200, 250, 300, 350, 400], "title": "Total Friction Loss Power (W)", "labelExpr": "'' + datum.value"}},
    "color": {"field": "run", "type": "nominal", "scale": {"domain": ["2D_BASIC", "3D_BASIC"], "range": ["#ff0000", "#0000ff"]}, "legend": {"orient": "none", "legendX": 1005, "legendY": 320, "title": null, "symbolType": "stroke", "symbolSize": 4761, "symbolStrokeWidth": 2, "clipHeight": 25, "labelFont": "Liberation Sans", "labelFontSize": 17, "labelOffset": 7, "labelColor": "#000", "padding": 8, "rowPadding": 0, "strokeColor": "#000", "fillColor": "#fff"}}
   }},
  {"data": {"values": [{}]}, "mark": {"type": "rect", "fill": "#d9d9d9", "stroke": "#222", "strokeWidth": 1.5},
   "encoding": {"x": {"datum": 430, "axis": null}, "x2": {"datum": 630}, "y": {"datum": 270, "axis": null}, "y2": {"datum": 400}}},
  {"data": {"values": [{}]}, "mark": {"type": "text", "text": "Max Y", "align": "left", "baseline": "middle", "fontSize": 11.5, "fill": "#333"}, "encoding": {"x": {"datum": 437, "axis": null}, "y": {"datum": 363, "axis": null}}},
  {"data": {"values": [{}]}, "mark": {"type": "text", "text": "Mean Y (int.dX)", "align": "left", "baseline": "middle", "fontSize": 11.5, "fill": "#333"}, "encoding": {"x": {"datum": 508, "axis": null}, "y": {"datum": 363, "axis": null}}},
  {"data": {"name": "s1"}, "transform": [{"filter": "datum.run == '2D_BASIC'"}], "mark": {"type": "text", "align": "left", "baseline": "middle", "fontSize": 11.5, "fill": "#ff2020"}, "encoding": {"x": {"datum": 437, "axis": null}, "y": {"datum": 326, "axis": null}, "text": {"field": "max"}}},
  {"data": {"name": "s1"}, "transform": [{"filter": "datum.run == '2D_BASIC'"}], "mark": {"type": "text", "align": "left", "baseline": "middle", "fontSize": 11.5, "fill": "#ff2020"}, "encoding": {"x": {"datum": 508, "axis": null}, "y": {"datum": 326, "axis": null}, "text": {"field": "mean"}}},
  {"data": {"name": "s1"}, "transform": [{"filter": "datum.run == '3D_BASIC'"}], "mark": {"type": "text", "align": "left", "baseline": "middle", "fontSize": 11.5, "fill": "#2020ff"}, "encoding": {"x": {"datum": 437, "axis": null}, "y": {"datum": 290, "axis": null}, "text": {"field": "max"}}},
  {"data": {"name": "s1"}, "transform": [{"filter": "datum.run == '3D_BASIC'"}], "mark": {"type": "text", "align": "left", "baseline": "middle", "fontSize": 11.5, "fill": "#2020ff"}, "encoding": {"x": {"datum": 508, "axis": null}, "y": {"datum": 290, "axis": null}, "text": {"field": "mean"}}},
  {"data": {"values": [{}]}, "mark": {"type": "point", "opacity": 0},
   "encoding": {
    "x": {"datum": -90, "axis": {"orient": "bottom", "values": [-67.5,-45,-22.5,22.5,45,67.5,112.5,135,157.5,202.5,225,247.5,292.5,315,337.5,382.5,405,427.5,472.5,495,517.5,562.5,585,607.5], "labels": false, "grid": false, "domain": false, "title": null, "tickSize": 3}},
    "y": {"datum": 0, "axis": {"orient": "left", "values": [10,20,30,40,60,70,80,90,110,120,130,140,160,170,180,190,210,220,230,240,260,270,280,290,310,320,330,340,360,370,380,390], "labels": false, "grid": false, "domain": false, "title": null, "tickSize": 3}}
   }}
 ]
},
{
 "width": 507, "height": 162,
 "title": {"text": "Total Friction Power Loss", "subtitle": "Top Ring", "offset": 0},
 "resolve": {"axis": {"x": "independent", "y": "independent"}},
 "layer": [
  {"data": {"name": "d2"}, "mark": {"type": "line", "strokeWidth": 1.3, "clip": true},
   "encoding": {
    "x": {"field": "ang", "type": "quantitative", "scale": {"domain": [-90, 630], "nice": false, "zero": false}, "axis": {"orient": "bottom", "labelOverlap": false, "values": [-90, 0, 90, 180, 270, 360, 450, 540, 630], "title": "CrankAng (deg)", "labelExpr": "'' + datum.value"}},
    "y": {"field": "val", "type": "quantitative", "scale": {"domain": [0, 300], "nice": false}, "axis": {"orient": "left", "labelOverlap": false, "values": [0, 50, 100, 150, 200, 250, 300], "title": "Friction Loss Power (W)", "labelExpr": "'' + datum.value"}},
    "color": {"field": "run", "type": "nominal", "scale": {"domain": ["2D_BASIC", "3D_BASIC"], "range": ["#ff0000", "#0000ff"]}}
   }},
  {"data": {"values": [{}]}, "mark": {"type": "rect", "fill": "#d9d9d9", "stroke": "#222", "strokeWidth": 1.5},
   "encoding": {"x": {"datum": 426, "axis": null}, "x2": {"datum": 630}, "y": {"datum": 203, "axis": null}, "y2": {"datum": 300}}},
  {"data": {"values": [{}]}, "mark": {"type": "text", "text": "Max Y", "align": "left", "baseline": "middle", "fontSize": 11.5, "fill": "#333"}, "encoding": {"x": {"datum": 433, "axis": null}, "y": {"datum": 279, "axis": null}}},
  {"data": {"values": [{}]}, "mark": {"type": "text", "text": "Mean Y (int.dX)", "align": "left", "baseline": "middle", "fontSize": 11.5, "fill": "#333"}, "encoding": {"x": {"datum": 503.6, "axis": null}, "y": {"datum": 279, "axis": null}}},
  {"data": {"name": "s2"}, "transform": [{"filter": "datum.run == '2D_BASIC'"}], "mark": {"type": "text", "align": "left", "baseline": "middle", "fontSize": 11.5, "fill": "#ff2020"}, "encoding": {"x": {"datum": 433, "axis": null}, "y": {"datum": 252, "axis": null}, "text": {"field": "max"}}},
  {"data": {"name": "s2"}, "transform": [{"filter": "datum.run == '2D_BASIC'"}], "mark": {"type": "text", "align": "left", "baseline": "middle", "fontSize": 11.5, "fill": "#ff2020"}, "encoding": {"x": {"datum": 503.6, "axis": null}, "y": {"datum": 252, "axis": null}, "text": {"field": "mean"}}},
  {"data": {"name": "s2"}, "transform": [{"filter": "datum.run == '3D_BASIC'"}], "mark": {"type": "text", "align": "left", "baseline": "middle", "fontSize": 11.5, "fill": "#2020ff"}, "encoding": {"x": {"datum": 433, "axis": null}, "y": {"datum": 226, "axis": null}, "text": {"field": "max"}}},
  {"data": {"name": "s2"}, "transform": [{"filter": "datum.run == '3D_BASIC'"}], "mark": {"type": "text", "align": "left", "baseline": "middle", "fontSize": 11.5, "fill": "#2020ff"}, "encoding": {"x": {"datum": 503.6, "axis": null}, "y": {"datum": 226, "axis": null}, "text": {"field": "mean"}}},
  {"data": {"values": [{}]}, "mark": {"type": "point", "opacity": 0},
   "encoding": {
    "x": {"datum": -90, "axis": {"orient": "bottom", "values": [-67.5,-45,-22.5,22.5,45,67.5,112.5,135,157.5,202.5,225,247.5,292.5,315,337.5,382.5,405,427.5,472.5,495,517.5,562.5,585,607.5], "labels": false, "grid": false, "domain": false, "title": null, "tickSize": 3}},
    "y": {"datum": 0, "axis": {"orient": "left", "values": [10,20,30,40,60,70,80,90,110,120,130,140,160,170,180,190,210,220,230,240,260,270,280,290], "labels": false, "grid": false, "domain": false, "title": null, "tickSize": 3}}
   }}
 ]
},
{
 "width": 507, "height": 162,
 "title": {"text": "Total Friction Force - Rings", "offset": 1},
 "resolve": {"axis": {"x": "independent", "y": "independent"}},
 "layer": [
  {"data": {"name": "d3"}, "mark": {"type": "line", "strokeWidth": 1.3, "clip": true},
   "encoding": {
    "x": {"field": "ang", "type": "quantitative", "scale": {"domain": [-90, 630], "nice": false, "zero": false}, "axis": {"orient": "bottom", "labelOverlap": false, "values": [-90, 0, 90, 180, 270, 360, 450, 540, 630], "title": "CrankAng (deg)", "labelExpr": "'' + datum.value"}},
    "y": {"field": "val", "type": "quantitative", "scale": {"domain": [-150, 150], "nice": false}, "axis": {"orient": "left", "labelOverlap": false, "values": [-150, -100, -50, 0, 50, 100, 150], "title": "Total Ring Friction (N)", "labelExpr": "'' + datum.value"}},
    "color": {"field": "run", "type": "nominal", "scale": {"domain": ["2D_BASIC", "3D_BASIC"], "range": ["#ff0000", "#0000ff"]}}
   }},
  {"data": {"values": [{}]}, "mark": {"type": "rect", "fill": "#d9d9d9", "stroke": "#222", "strokeWidth": 1.5},
   "encoding": {"x": {"datum": 347, "axis": null}, "x2": {"datum": 630}, "y": {"datum": 54.7, "axis": null}, "y2": {"datum": 150}}},
  {"data": {"values": [{}]}, "mark": {"type": "text", "text": "Min Y", "align": "left", "baseline": "middle", "fontSize": 11.5, "fill": "#333"}, "encoding": {"x": {"datum": 354, "axis": null}, "y": {"datum": 130, "axis": null}}},
  {"data": {"values": [{}]}, "mark": {"type": "text", "text": "Max Y", "align": "left", "baseline": "middle", "fontSize": 11.5, "fill": "#333"}, "encoding": {"x": {"datum": 431, "axis": null}, "y": {"datum": 130, "axis": null}}},
  {"data": {"values": [{}]}, "mark": {"type": "text", "text": "Mean Y (int.dX)", "align": "left", "baseline": "middle", "fontSize": 11.5, "fill": "#333"}, "encoding": {"x": {"datum": 508, "axis": null}, "y": {"datum": 130, "axis": null}}},
  {"data": {"name": "s3"}, "transform": [{"filter": "datum.run == '2D_BASIC'"}], "mark": {"type": "text", "align": "left", "baseline": "middle", "fontSize": 11.5, "fill": "#ff2020"}, "encoding": {"x": {"datum": 354, "axis": null}, "y": {"datum": 102.6, "axis": null}, "text": {"field": "min"}}},
  {"data": {"name": "s3"}, "transform": [{"filter": "datum.run == '2D_BASIC'"}], "mark": {"type": "text", "align": "left", "baseline": "middle", "fontSize": 11.5, "fill": "#ff2020"}, "encoding": {"x": {"datum": 431, "axis": null}, "y": {"datum": 102.6, "axis": null}, "text": {"field": "max"}}},
  {"data": {"name": "s3"}, "transform": [{"filter": "datum.run == '2D_BASIC'"}], "mark": {"type": "text", "align": "left", "baseline": "middle", "fontSize": 11.5, "fill": "#ff2020"}, "encoding": {"x": {"datum": 508, "axis": null}, "y": {"datum": 102.6, "axis": null}, "text": {"field": "mean"}}},
  {"data": {"name": "s3"}, "transform": [{"filter": "datum.run == '3D_BASIC'"}], "mark": {"type": "text", "align": "left", "baseline": "middle", "fontSize": 11.5, "fill": "#2020ff"}, "encoding": {"x": {"datum": 354, "axis": null}, "y": {"datum": 76, "axis": null}, "text": {"field": "min"}}},
  {"data": {"name": "s3"}, "transform": [{"filter": "datum.run == '3D_BASIC'"}], "mark": {"type": "text", "align": "left", "baseline": "middle", "fontSize": 11.5, "fill": "#2020ff"}, "encoding": {"x": {"datum": 431, "axis": null}, "y": {"datum": 76, "axis": null}, "text": {"field": "max"}}},
  {"data": {"name": "s3"}, "transform": [{"filter": "datum.run == '3D_BASIC'"}], "mark": {"type": "text", "align": "left", "baseline": "middle", "fontSize": 11.5, "fill": "#2020ff"}, "encoding": {"x": {"datum": 508, "axis": null}, "y": {"datum": 76, "axis": null}, "text": {"field": "mean"}}},
  {"data": {"values": [{}]}, "mark": {"type": "point", "opacity": 0},
   "encoding": {
    "x": {"datum": -90, "axis": {"orient": "bottom", "values": [-67.5,-45,-22.5,22.5,45,67.5,112.5,135,157.5,202.5,225,247.5,292.5,315,337.5,382.5,405,427.5,472.5,495,517.5,562.5,585,607.5], "labels": false, "grid": false, "domain": false, "title": null, "tickSize": 3}},
    "y": {"datum": 0, "axis": {"orient": "left", "values": [-140,-130,-120,-110,-90,-80,-70,-60,-40,-30,-20,-10,10,20,30,40,60,70,80,90,110,120,130,140], "labels": false, "grid": false, "domain": false, "title": null, "tickSize": 3}}
   }}
 ]
},
{
 "width": 507, "height": 162,
 "title": {"text": "2nd Ring", "fontWeight": "normal", "fontSize": 14, "offset": 1},
 "resolve": {"axis": {"x": "independent", "y": "independent"}},
 "layer": [
  {"data": {"name": "d4"}, "mark": {"type": "line", "strokeWidth": 1.3, "clip": true},
   "encoding": {
    "x": {"field": "ang", "type": "quantitative", "scale": {"domain": [-90, 630], "nice": false, "zero": false}, "axis": {"orient": "bottom", "labelOverlap": false, "values": [-90, 0, 90, 180, 270, 360, 450, 540, 630], "title": "CrankAng (deg)", "labelExpr": "'' + datum.value"}},
    "y": {"field": "val", "type": "quantitative", "scale": {"domain": [0, 160], "nice": false}, "axis": {"orient": "left", "labelOverlap": false, "values": [0, 20, 40, 60, 80, 100, 120, 140, 160], "title": "Friction Loss Power (W)", "labelExpr": "'' + datum.value"}},
    "color": {"field": "run", "type": "nominal", "scale": {"domain": ["2D_BASIC", "3D_BASIC"], "range": ["#ff0000", "#0000ff"]}}
   }},
  {"data": {"values": [{}]}, "mark": {"type": "rect", "fill": "#d9d9d9", "stroke": "#222", "strokeWidth": 1.5},
   "encoding": {"x": {"datum": 429, "axis": null}, "x2": {"datum": 630}, "y": {"datum": 108, "axis": null}, "y2": {"datum": 160}}},
  {"data": {"values": [{}]}, "mark": {"type": "text", "text": "Max Y", "align": "left", "baseline": "middle", "fontSize": 11.5, "fill": "#333"}, "encoding": {"x": {"datum": 437, "axis": null}, "y": {"datum": 149, "axis": null}}},
  {"data": {"values": [{}]}, "mark": {"type": "text", "text": "Mean Y (int.dX)", "align": "left", "baseline": "middle", "fontSize": 11.5, "fill": "#333"}, "encoding": {"x": {"datum": 507, "axis": null}, "y": {"datum": 149, "axis": null}}},
  {"data": {"name": "s4"}, "transform": [{"filter": "datum.run == '2D_BASIC'"}], "mark": {"type": "text", "align": "left", "baseline": "middle", "fontSize": 11.5, "fill": "#ff2020"}, "encoding": {"x": {"datum": 437, "axis": null}, "y": {"datum": 135, "axis": null}, "text": {"field": "max"}}},
  {"data": {"name": "s4"}, "transform": [{"filter": "datum.run == '2D_BASIC'"}], "mark": {"type": "text", "align": "left", "baseline": "middle", "fontSize": 11.5, "fill": "#ff2020"}, "encoding": {"x": {"datum": 507, "axis": null}, "y": {"datum": 135, "axis": null}, "text": {"field": "mean"}}},
  {"data": {"name": "s4"}, "transform": [{"filter": "datum.run == '3D_BASIC'"}], "mark": {"type": "text", "align": "left", "baseline": "middle", "fontSize": 11.5, "fill": "#2020ff"}, "encoding": {"x": {"datum": 437, "axis": null}, "y": {"datum": 120, "axis": null}, "text": {"field": "max"}}},
  {"data": {"name": "s4"}, "transform": [{"filter": "datum.run == '3D_BASIC'"}], "mark": {"type": "text", "align": "left", "baseline": "middle", "fontSize": 11.5, "fill": "#2020ff"}, "encoding": {"x": {"datum": 507, "axis": null}, "y": {"datum": 120, "axis": null}, "text": {"field": "mean"}}},
  {"data": {"values": [{}]}, "mark": {"type": "point", "opacity": 0},
   "encoding": {
    "x": {"datum": -90, "axis": {"orient": "bottom", "values": [-67.5,-45,-22.5,22.5,45,67.5,112.5,135,157.5,202.5,225,247.5,292.5,315,337.5,382.5,405,427.5,472.5,495,517.5,562.5,585,607.5], "labels": false, "grid": false, "domain": false, "title": null, "tickSize": 3}},
    "y": {"datum": 0, "axis": {"orient": "left", "values": [5,10,15,25,30,35,45,50,55,65,70,75,85,90,95,105,110,115,125,130,135,145,150,155], "labels": false, "grid": false, "domain": false, "title": null, "tickSize": 3}}
   }}
 ]
},
{
 "width": 507, "height": 162,
 "title": {"text": "Ring Package", "subtitle": "Total cumulated FMEP", "offset": 4},
 "resolve": {"axis": {"x": "independent", "y": "independent"}},
 "layer": [
  {"data": {"name": "d5"}, "mark": {"type": "line", "strokeWidth": 1.3, "clip": true},
   "encoding": {
    "x": {"field": "ang", "type": "quantitative", "scale": {"domain": [-90, 630], "nice": false, "zero": false}, "axis": {"orient": "bottom", "labelOverlap": false, "values": [-90, 0, 90, 180, 270, 360, 450, 540, 630], "title": "CrankAng (deg)", "labelExpr": "'' + datum.value"}},
    "y": {"field": "val", "type": "quantitative", "scale": {"domain": [-0.14, 0], "nice": false, "zero": false}, "axis": {"orient": "left", "labelOverlap": false, "values": [0, -0.02, -0.04, -0.06, -0.08, -0.1, -0.12, -0.14], "title": "FMEP (bar)", "labelExpr": "'' + datum.value"}},
    "color": {"field": "run", "type": "nominal", "scale": {"domain": ["2D_BASIC", "3D_BASIC"], "range": ["#ff0000", "#0000ff"]}}
   }},
  {"data": {"values": [{}]}, "mark": {"type": "rect", "fill": "#d9d9d9", "stroke": "#222", "strokeWidth": 1.5},
   "encoding": {"x": {"datum": -90, "axis": null}, "x2": {"datum": 1.6}, "y": {"datum": -0.14, "axis": null}, "y2": {"datum": -0.0945}}},
  {"data": {"values": [{}]}, "mark": {"type": "text", "text": "Min Y", "align": "left", "baseline": "middle", "fontSize": 11.5, "fill": "#333"}, "encoding": {"x": {"datum": -82, "axis": null}, "y": {"datum": -0.105, "axis": null}}},
  {"data": {"name": "s5"}, "transform": [{"filter": "datum.run == '2D_BASIC'"}], "mark": {"type": "text", "align": "left", "baseline": "middle", "fontSize": 11.5, "fill": "#ff2020"}, "encoding": {"x": {"datum": -82, "axis": null}, "y": {"datum": -0.116, "axis": null}, "text": {"field": "min"}}},
  {"data": {"name": "s5"}, "transform": [{"filter": "datum.run == '3D_BASIC'"}], "mark": {"type": "text", "align": "left", "baseline": "middle", "fontSize": 11.5, "fill": "#2020ff"}, "encoding": {"x": {"datum": -82, "axis": null}, "y": {"datum": -0.1297, "axis": null}, "text": {"field": "min"}}},
  {"data": {"values": [{}]}, "mark": {"type": "point", "opacity": 0},
   "encoding": {
    "x": {"datum": -90, "axis": {"orient": "bottom", "values": [-67.5,-45,-22.5,22.5,45,67.5,112.5,135,157.5,202.5,225,247.5,292.5,315,337.5,382.5,405,427.5,472.5,495,517.5,562.5,585,607.5], "labels": false, "grid": false, "domain": false, "title": null, "tickSize": 3}},
    "y": {"datum": 0, "axis": {"orient": "left", "values": [-0.005,-0.01,-0.015,-0.025,-0.03,-0.035,-0.045,-0.05,-0.055,-0.065,-0.07,-0.075,-0.085,-0.09,-0.095,-0.105,-0.11,-0.115,-0.125,-0.13,-0.135], "labels": false, "grid": false, "domain": false, "title": null, "tickSize": 3}}
   }}
 ]
},
{
 "width": 507, "height": 162,
 "title": {"text": "Oil Ring", "fontWeight": "normal", "fontSize": 14, "offset": 0},
 "resolve": {"axis": {"x": "independent", "y": "independent"}},
 "layer": [
  {"data": {"name": "d6"}, "mark": {"type": "line", "strokeWidth": 1.3, "clip": true},
   "encoding": {
    "x": {"field": "ang", "type": "quantitative", "scale": {"domain": [-90, 630], "nice": false, "zero": false}, "axis": {"orient": "bottom", "labelOverlap": false, "values": [-90, 0, 90, 180, 270, 360, 450, 540, 630], "title": "CrankAng (deg)", "labelExpr": "'' + datum.value"}},
    "y": {"field": "val", "type": "quantitative", "scale": {"domain": [0, 160], "nice": false}, "axis": {"orient": "left", "labelOverlap": false, "values": [0, 20, 40, 60, 80, 100, 120, 140, 160], "title": "Friction Loss Power (W)", "labelExpr": "'' + datum.value"}},
    "color": {"field": "run", "type": "nominal", "scale": {"domain": ["2D_BASIC", "3D_BASIC"], "range": ["#ff0000", "#0000ff"]}}
   }},
  {"data": {"values": [{}]}, "mark": {"type": "rect", "fill": "#d9d9d9", "stroke": "#222", "strokeWidth": 1.5},
   "encoding": {"x": {"datum": 428.5, "axis": null}, "x2": {"datum": 630}, "y": {"datum": 0, "axis": null}, "y2": {"datum": 52}}},
  {"data": {"values": [{}]}, "mark": {"type": "text", "text": "Max Y", "align": "left", "baseline": "middle", "fontSize": 11.5, "fill": "#333"}, "encoding": {"x": {"datum": 436, "axis": null}, "y": {"datum": 40, "axis": null}}},
  {"data": {"values": [{}]}, "mark": {"type": "text", "text": "Mean Y (int.dX)", "align": "left", "baseline": "middle", "fontSize": 11.5, "fill": "#333"}, "encoding": {"x": {"datum": 507, "axis": null}, "y": {"datum": 40, "axis": null}}},
  {"data": {"name": "s6"}, "transform": [{"filter": "datum.run == '2D_BASIC'"}], "mark": {"type": "text", "align": "left", "baseline": "middle", "fontSize": 11.5, "fill": "#ff2020"}, "encoding": {"x": {"datum": 436, "axis": null}, "y": {"datum": 27, "axis": null}, "text": {"field": "max"}}},
  {"data": {"name": "s6"}, "transform": [{"filter": "datum.run == '2D_BASIC'"}], "mark": {"type": "text", "align": "left", "baseline": "middle", "fontSize": 11.5, "fill": "#ff2020"}, "encoding": {"x": {"datum": 507, "axis": null}, "y": {"datum": 27, "axis": null}, "text": {"field": "mean"}}},
  {"data": {"name": "s6"}, "transform": [{"filter": "datum.run == '3D_BASIC'"}], "mark": {"type": "text", "align": "left", "baseline": "middle", "fontSize": 11.5, "fill": "#2020ff"}, "encoding": {"x": {"datum": 436, "axis": null}, "y": {"datum": 12, "axis": null}, "text": {"field": "max"}}},
  {"data": {"name": "s6"}, "transform": [{"filter": "datum.run == '3D_BASIC'"}], "mark": {"type": "text", "align": "left", "baseline": "middle", "fontSize": 11.5, "fill": "#2020ff"}, "encoding": {"x": {"datum": 507, "axis": null}, "y": {"datum": 12, "axis": null}, "text": {"field": "mean"}}},
  {"data": {"values": [{}]}, "mark": {"type": "point", "opacity": 0},
   "encoding": {
    "x": {"datum": -90, "axis": {"orient": "bottom", "values": [-67.5,-45,-22.5,22.5,45,67.5,112.5,135,157.5,202.5,225,247.5,292.5,315,337.5,382.5,405,427.5,472.5,495,517.5,562.5,585,607.5], "labels": false, "grid": false, "domain": false, "title": null, "tickSize": 3}},
    "y": {"datum": 0, "axis": {"orient": "left", "values": [5,10,15,25,30,35,45,50,55,65,70,75,85,90,95,105,110,115,125,130,135,145,150,155], "labels": false, "grid": false, "domain": false, "title": null, "tickSize": 3}}
   }}
 ]
}
]
}
